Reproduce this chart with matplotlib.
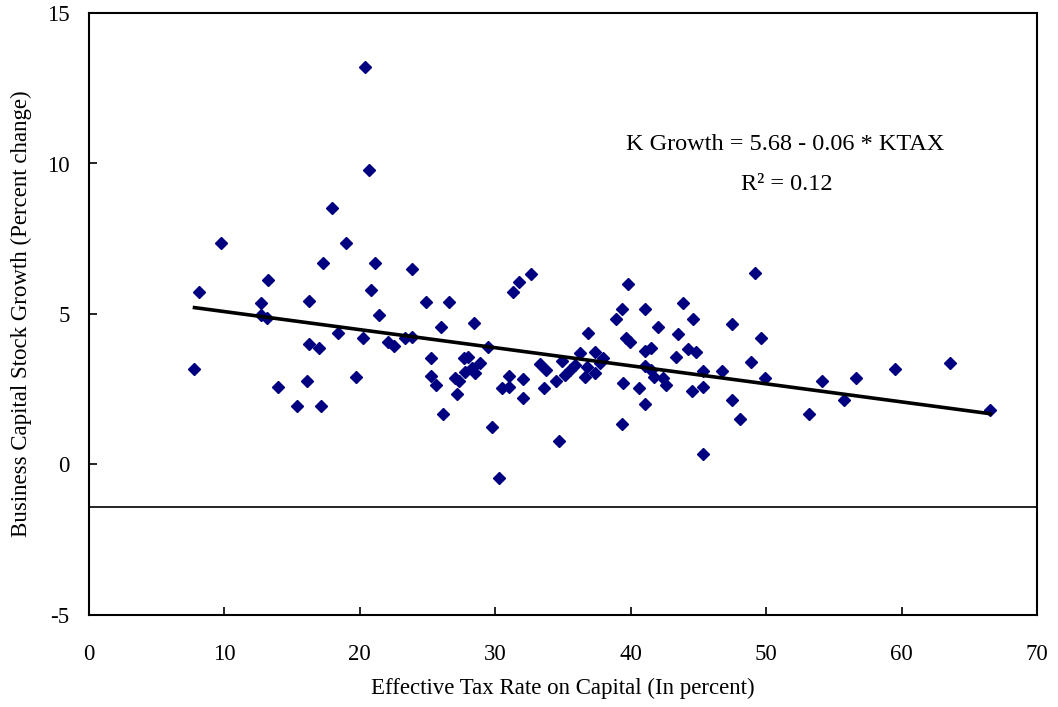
import matplotlib
matplotlib.use("Agg")
import matplotlib.pyplot as plt
import numpy as np

plt.rcParams['font.family'] = ['Liberation Serif', 'DejaVu Serif']
plt.rcParams['axes.unicode_minus'] = False

# === DATA ===
ktax = [7.79, 8.09, 9.78, 13.24, 12.68, 12.73, 13.14, 13.96, 15.39, 16.25,
        16.10, 16.25, 16.98, 17.11, 17.28, 18.96, 17.97, 20.41, 20.71, 18.39,
        19.70, 20.24, 20.83, 21.12, 21.42, 22.08, 22.53, 23.32, 23.86, 23.86,
        24.87, 26.57, 26.00, 28.44, 29.43, 25.29, 25.29, 25.59, 26.15, 27.14,
        27.01, 27.33, 27.70, 28.00, 27.75, 28.25, 28.49, 28.86, 29.73, 30.29,
        30.47, 31.00, 31.00, 32.02, 32.02, 31.32, 31.74, 32.61, 33.30, 33.72,
        33.59, 34.46, 34.90, 34.72, 35.14, 35.51, 35.88, 36.25, 36.87, 36.62,
        37.36, 37.36, 36.75, 37.73, 37.97, 39.77, 39.33, 38.91, 41.06, 43.89,
        44.63, 42.04, 43.47, 47.46, 49.63, 49.19, 39.63, 39.95, 41.06, 41.50,
        43.33, 44.26, 44.80, 39.45, 40.61, 41.06, 39.33, 41.06, 41.50, 41.72,
        42.36, 42.61, 44.50, 45.36, 45.36, 46.77, 47.46, 48.08, 45.36, 48.89,
        49.93, 54.12, 53.20, 55.76, 56.65, 59.53, 63.55, 66.56]
kgrowth = [3.16, 5.74, 7.35, 6.12, 5.36, 4.97, 4.88, 2.58, 1.94, 5.42,
           2.77, 4.00, 3.88, 1.94, 6.70, 7.35, 8.51, 13.22, 9.78, 4.38,
           2.92, 4.20, 5.80, 6.70, 4.97, 4.08, 3.94, 4.19, 6.50, 4.25,
           5.41, 5.41, 4.58, 4.71, 3.91, 3.55, 2.94, 2.64, 1.68, 2.33,
           2.86, 2.77, 3.55, 3.58, 3.08, 3.22, 3.03, 3.36, 1.24, -0.44,
           2.53, 2.58, 2.94, 2.20, 2.84, 5.74, 6.07, 6.33, 3.33, 3.14,
           2.53, 2.77, 3.44, 0.79, 2.97, 3.14, 3.31, 3.71, 4.38, 2.92,
           3.03, 3.75, 3.25, 3.36, 3.53, 6.00, 5.16, 4.83, 5.16, 5.36,
           4.83, 4.58, 4.32, 4.66, 4.19, 6.37, 4.19, 4.06, 3.77, 3.88,
           3.56, 3.84, 3.75, 2.72, 2.53, 2.00, 1.35, 3.27, 3.14, 2.92,
           2.86, 2.64, 2.45, 2.58, 3.10, 3.10, 2.14, 1.50, 0.34, 3.42,
           2.86, 2.77, 1.68, 2.14, 2.86, 3.16, 3.36, 1.81]

intercept = 5.68
slope = -0.06
r_squared = 0.12
baseline = -1.42

x_ticks = [0, 10, 20, 30, 40, 50, 60, 70]
y_ticks = [-5, 0, 5, 10, 15]

FS = 16.5

# === PLOT ===
fig = plt.figure(figsize=(10.58, 7.07), dpi=100)
ax = fig.add_axes([89 / 1058, 1 - 615 / 707, (1037 - 89) / 1058, (615 - 13) / 707])

ax.axhline(baseline, color="black", linewidth=1.2, zorder=1)

ax.plot(ktax, kgrowth, linestyle="none", marker="D", markersize=6.5,
        color="#000080", zorder=3)

fit_x = np.array([min(ktax), max(ktax)])
ax.plot(fit_x, intercept + slope * fit_x, color="black", linewidth=2.6, zorder=4)

ax.set_xlim(0, 70)
ax.set_ylim(-5, 15)
ax.set_xticks(x_ticks)
ax.set_yticks(y_ticks)
ax.tick_params(direction="in", length=6, width=1.2, labelsize=FS)
ax.tick_params(axis="x", pad=21)
ax.tick_params(axis="y", pad=14)
for sp in ax.spines.values():
    sp.set_linewidth(1.5)

ax.set_xlabel("Effective Tax Rate on Capital (In percent)", fontsize=FS, labelpad=9)
ax.set_ylabel("Business Capital Stock Growth (Percent change)", fontsize=FS, labelpad=11)

ax.text(51.4, 10.63, f"K Growth = {intercept:.2f} - {abs(slope):.2f} * KTAX",
        ha="center", va="center", fontsize=17.5)
ax.text(51.5, 9.3, f"R\u00b2 = {r_squared:.2f}", ha="center", va="center", fontsize=17.5)

fig.savefig("out.png", dpi=100)
